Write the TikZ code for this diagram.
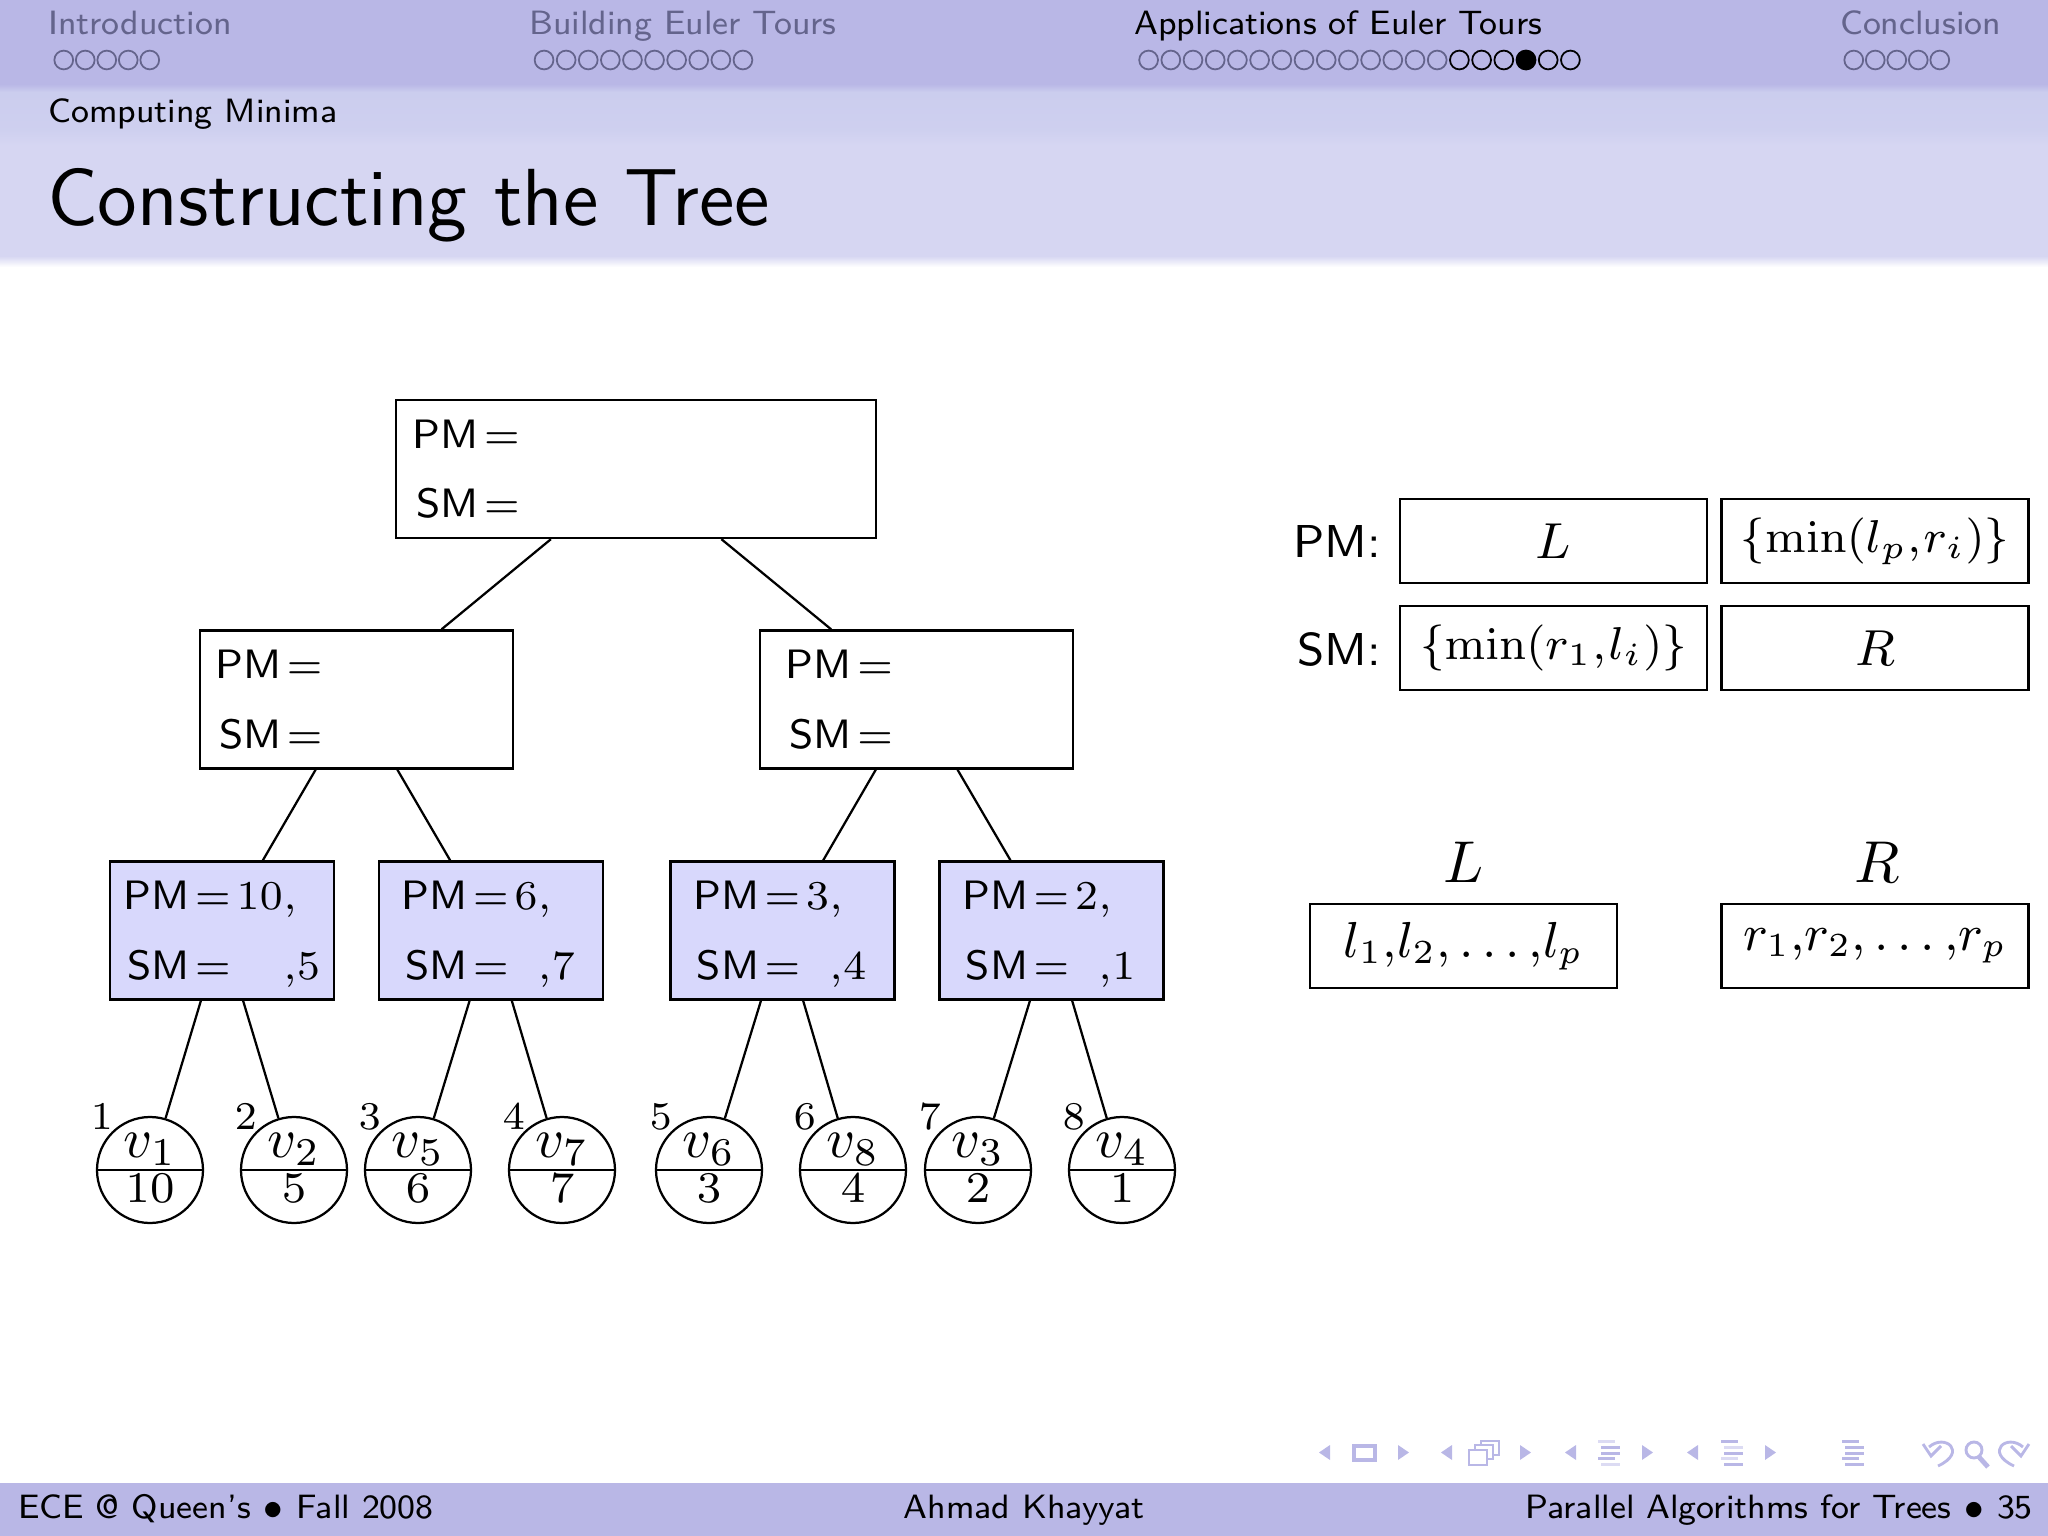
\documentclass[tikz,border=0pt]{standalone}
\usepackage{fix-cm}
\usetikzlibrary{shapes.multipart}

\definecolor{navband}{HTML}{B9B7E6}
\definecolor{subband}{HTML}{CBCDEE}
\definecolor{titleband}{HTML}{D6D6F2}
\definecolor{leaffill}{HTML}{D8D8FC}
\definecolor{navgray}{HTML}{64648C}

% tight math as on the slide
\thickmuskip=2mu

% one row of a tree box
\newcommand{\pmsm}[2]{\begin{tabular}{@{}r@{}l@{}}\rule{0pt}{7.7pt}PM${}={}$&$#1$\\[1.17mm]SM${}={}$&$#2$\end{tabular}}
% small triangles of the navigation symbols
\newcommand{\navleft}[1]{\fill[navband] (#1,1445) -- (#1,1460) -- ({#1-11},1452.5) -- cycle;}
\newcommand{\navright}[1]{\fill[navband] (#1,1445) -- (#1,1460) -- ({#1+11},1452.5) -- cycle;}
\newcommand{\navlines}[3]{%
  \fill[navband!#2] (#1,1440) rectangle ++(17,3);
  \fill[navband!#3] ({#1+3},1446) rectangle ++(19,3);
  \fill[navband] ({#1+3},1452) rectangle ++(19,3);
  \fill[navband!#3] (#1,1457) rectangle ++(17,3);
  \fill[navband!#2] ({#1+3},1463) rectangle ++(19,3);}
\newcommand{\navdots}[3]{%
  \foreach \i in {1,...,#3}
    \draw[navgray, line width=0.11mm] ({#1+(\i-0.5)*#2},60) circle[radius=9.4];}

\begin{document}
\begin{tikzpicture}[x=0.0625mm, y=-0.0625mm,
            every node/.style = {font=\sffamily},
            navtext/.style = {anchor=base west, inner sep=0pt, font=\sffamily\fontsize{6}{7}\selectfont},
            footext/.style = {anchor=base, inner sep=0pt, font=\sffamily\fontsize{6}{7}\selectfont},
            treebox/.style = {draw, rectangle, inner sep=0pt, minimum height=8.63mm, font=\sffamily\fontsize{7.3}{9}\selectfont},
            rootbox/.style = {treebox, minimum width=30mm},
            midbox/.style = {treebox, minimum width=19.56mm},
            leafbox/.style = {treebox, minimum width=14mm, fill=leaffill},
            leaf/.style = {draw, circle split, inner sep=0.2mm, minimum size=6.625mm, font=\fontsize{10}{10}\selectfont},
            num/.style = {inner sep=0pt, label distance=0.2mm, xshift=0.3mm, yshift=-0.1mm, font=\fontsize{7}{7}\selectfont},
            cell/.style = {draw, rectangle, inner sep=0pt, minimum width=19.2mm, minimum height=5.25mm, font=\fontsize{9}{10}\selectfont},
            mincell/.style = {cell, font=\fontsize{8.2}{10}\selectfont},
            head/.style = {inner sep=0pt, font=\sffamily\fontsize{8.2}{10}\selectfont}]

    \useasboundingbox (0,0) rectangle (2048,1536);

    %bands of the header
    \fill[navband] (0,0) rectangle (2048,84);
    \fill[top color=navband, bottom color=subband] (0,84) rectangle (2048,92);
    \fill[top color=subband, bottom color=subband!70!titleband] (0,92) rectangle (2048,130);
    \fill[top color=subband!70!titleband, bottom color=titleband] (0,130) rectangle (2048,145);
    \fill[titleband] (0,145) rectangle (2048,256);
    \fill[top color=titleband, bottom color=white] (0,256) rectangle (2048,267);
    \fill[navband] (0,1483) rectangle (2048,1536);

    %sections
    \node[navtext, text=navgray] (sec1) at (47,34) {Introduction};
    \node[navtext, text=navgray] (sec2) at (528,34) {Building Euler Tours};
    \node[navtext] (sec3) at (1133,34) {Applications of Euler Tours};
    \node[navtext, text=navgray] (sec4) at (1839,34) {Conclusion};
    \navdots{53}{21.5}{5}
    \navdots{533}{22.1}{10}
    \navdots{1137.5}{22.2}{14}
    \navdots{1843}{21.5}{5}
    \foreach \i in {15,16,17,19,20}
        \draw[line width=0.11mm] ({1137.5+(\i-0.5)*22.2},60) circle[radius=9.4];
    \fill ({1137.5+17.5*22.2},60) circle[radius=10.4];

    \node[navtext] (sub) at (47.5,122) {Computing Minima};
    \node[anchor=base west, inner sep=0pt, font=\sffamily\fontsize{14.4}{16}\selectfont] (title) at (46,225) {Constructing the Tree};

    %the tree
    \node[rootbox] (r) at (636,469) {\pmsm{\hspace{20.9mm}}{}};
    \node[midbox] (m1) at (356.5,699.5) {\pmsm{\hspace{10.6mm}}{}};
    \node[midbox] (m2) at (916.5,699.5) {\pmsm{\hspace{9.3mm}}{}};
    \node[leafbox] (b1) at (222,930.5) {\pmsm{10,}{\phantom{10}{,}5}};
    \node[leafbox] (b2) at (491,930.5) {\pmsm{6,}{\phantom{6}{,}7\hspace{0.33mm}}};
    \node[leafbox] (b3) at (782.5,930.5) {\pmsm{3,}{\phantom{3}{,}4\hspace{0.33mm}}};
    \node[leafbox] (b4) at (1051.5,930.5) {\pmsm{2,}{\phantom{2}{,}1\hspace{0.33mm}}};

    \node[leaf, label={[num]135:$1$}] (v1) at (150,1170) {$v_1$\nodepart{lower}\fontsize{7.8}{9}\selectfont$10$};
    \node[leaf, label={[num]135:$2$}] (v2) at (294,1170) {$v_2$\nodepart{lower}\fontsize{7.8}{9}\selectfont$5$};
    \node[leaf, label={[num]135:$3$}] (v5) at (418,1170) {$v_5$\nodepart{lower}\fontsize{7.8}{9}\selectfont$6$};
    \node[leaf, label={[num]135:$4$}] (v7) at (562,1170) {$v_7$\nodepart{lower}\fontsize{7.8}{9}\selectfont$7$};
    \node[leaf, label={[num]135:$5$}] (v6) at (709,1170) {$v_6$\nodepart{lower}\fontsize{7.8}{9}\selectfont$3$};
    \node[leaf, label={[num]135:$6$}] (v8) at (853,1170) {$v_8$\nodepart{lower}\fontsize{7.8}{9}\selectfont$4$};
    \node[leaf, label={[num]135:$7$}] (v3) at (978,1170) {$v_3$\nodepart{lower}\fontsize{7.8}{9}\selectfont$2$};
    \node[leaf, label={[num]135:$8$}] (v4) at (1122,1170) {$v_4$\nodepart{lower}\fontsize{7.8}{9}\selectfont$1$};

    %edges
    \draw (r) -- (m1);
    \draw (r) -- (m2);
    \draw (m1) -- (b1);
    \draw (m1) -- (b2);
    \draw (m2) -- (b3);
    \draw (m2) -- (b4);
    \draw (b1) -- (v1);
    \draw (b1) -- (v2);
    \draw (b2) -- (v5);
    \draw (b2) -- (v7);
    \draw (b3) -- (v6);
    \draw (b3) -- (v8);
    \draw (b4) -- (v3);
    \draw (b4) -- (v4);

    %the table on the right
    \node[cell] (c1) at (1553.5,541) {$L$};
    \node[mincell] (c2) at (1875,541) {$\{\min(l_p{,}\mkern1mu r_i)\}$};
    \node[mincell] (c3) at (1553.5,648) {$\{\min(r_1{,}\mkern1mu l_i)\}$};
    \node[cell] (c4) at (1875,648) {$R$};
    \node[head, anchor=base east] (pm) at (1382,558) {PM:};
    \node[head, anchor=base east] (sm) at (1382,665) {SM:};

    \node[cell] (lbox) at (1463.5,946) {\raisebox{-0.15mm}{$l_1{,}l_2{,}\ldots{,}l_p$}};
    \node[cell] (rbox) at (1875,946) {\raisebox{-0.15mm}{$r_1{,}r_2{,}\ldots{,}r_p$}};
    \node[inner sep=0pt, font=\fontsize{10.5}{12}\selectfont] (ltext) at (1464,862) {$L$};
    \node[inner sep=0pt, font=\fontsize{10.5}{12}\selectfont] (rtext) at (1877,862) {$R$};

    %footer
    \node[navtext] (foot1) at (17,1518) {ECE @ Queen's $\bullet$ Fall 2008};
    \node[footext] (foot2) at (1024,1518) {Ahmad Khayyat};
    \node[footext, anchor=base east] (foot3) at (2034,1518) {Parallel Algorithms for Trees $\bullet$ 35};

    %navigation symbols
    \navleft{1330}
    \draw[navband, line width=0.2mm] (1354,1446) rectangle (1375,1460);
    \navright{1398}
    \navleft{1452}
    \draw[navband, line width=0.15mm, fill=white] (1481,1441) rectangle (1499,1455);
    \draw[navband, line width=0.15mm, fill=white] (1475,1445) rectangle (1493,1459);
    \draw[navband, line width=0.15mm, fill=white] (1469,1450) rectangle (1487,1465);
    \navright{1520}
    \navleft{1576}
    \navlines{1598}{50}{100}
    \navright{1642}
    \navleft{1698}
    \navlines{1721}{100}{50}
    \navright{1765}
    \navlines{1842}{100}{100}
    \draw[navband, line width=0.18mm] (1929,1447) .. controls (1945,1433) and (1968,1452) .. (1938,1466);
    \draw[navband, line width=0.18mm] (1923,1444) -- (1931,1456) -- (1941,1446);
    \draw[navband, line width=0.18mm] (1974,1450) circle[radius=8];
    \draw[navband, line width=0.3mm] (1979,1457) -- (1988,1467);
    \draw[navband, line width=0.18mm] (2023,1447) .. controls (2007,1433) and (1984,1452) .. (2014,1466);
    \draw[navband, line width=0.18mm] (2029,1444) -- (2021,1456) -- (2011,1446);
\end{tikzpicture}
\end{document}
